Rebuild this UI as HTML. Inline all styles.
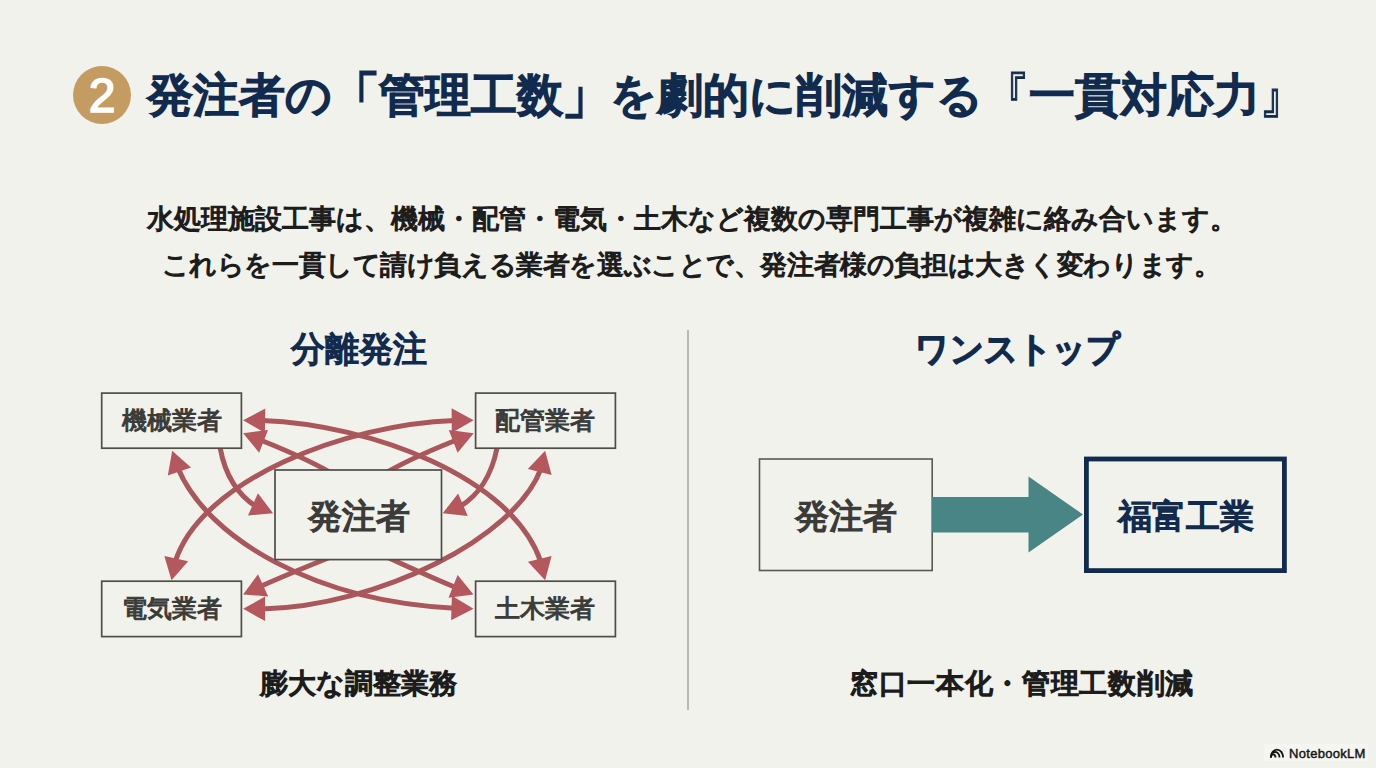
<!DOCTYPE html>
<html lang="ja">
<head>
<meta charset="utf-8">
<style>
html,body{margin:0;padding:0}
body{width:1376px;height:768px;overflow:hidden;background:#f2f2ed;position:relative;font-family:"Liberation Sans",sans-serif}
.abs{position:absolute;white-space:nowrap;line-height:1}
.title{left:147px;top:72px;font-size:46px;letter-spacing:0.16px;font-weight:normal;color:#112b4e;-webkit-text-stroke:2.4px #112b4e}
.badge{left:73px;top:66px;width:58px;height:58px;border-radius:50%;background:#c49c62;color:#fff;font-size:48px;font-weight:normal;text-align:center;line-height:60px;-webkit-text-stroke:1.6px #fff}
.sub{left:0;width:1376px;text-align:center;font-size:27px;font-weight:normal;color:#1c1c1c;-webkit-text-stroke:1.3px #1c1c1c}
.h2{font-size:35px;font-weight:normal;color:#112b4e;text-align:center;width:400px;-webkit-text-stroke:1.7px #112b4e}
.bo{display:inline-block;transform:scale(1.05,1.27);transform-origin:50% 22%}
.bc{display:inline-block;transform:scale(1.05,1.27);transform-origin:50% 78%}
.ns{-webkit-text-stroke:0.9px currentColor}
.cap{font-size:28px;font-weight:normal;color:#1c1c1c;text-align:center;width:500px;-webkit-text-stroke:1.6px #1c1c1c}
.box{position:absolute;box-sizing:border-box;display:flex;align-items:center;justify-content:center;color:#3b3b39;font-weight:normal;-webkit-text-stroke:1.1px currentColor}
</style>
</head>
<body>
<div class="abs badge">2</div>
<div class="abs title">発注者の<span class="bo">「</span>管理工数<span class="bc">」</span>を劇的に削減する<span class="ns bo">『</span>一貫対応力<span class="ns bc">』</span></div>
<div class="abs sub" style="top:206px;left:4px">水処理施設工事は、機械・配管・電気・土木など複数の専門工事が複雑に絡み合います。</div>
<div class="abs sub" style="top:252px;left:3px;letter-spacing:-0.42px">これらを一貫して請け負える業者を選ぶことで、発注者様の負担は大きく変わります。</div>

<div class="abs h2" style="left:158.5px;top:331px;transform:scaleX(0.972)">分離発注</div>
<div class="abs h2" style="left:818px;top:331px;transform:scaleX(0.95);-webkit-text-stroke:2.4px #112b4e">ワンストップ</div>

<div style="position:absolute;left:687px;top:330px;width:1.5px;height:380px;background:#b9b9b4"></div>

<svg style="position:absolute;left:0;top:0" width="1376" height="768">
<path d="M262.3,420.5 C371.0,424.5 512.2,477.4 540.8,561.8" fill="none" stroke="#aa575b" stroke-width="5"/>
<polygon points="243.1,420.3 265.3,408.4 264.9,432.9" fill="#b4585d"/>
<polygon points="545.1,580.2 527.9,561.8 551.6,555.9" fill="#b4585d"/>
<path d="M454.7,420.4 C344.7,424.1 201.0,480.3 175.2,561.7" fill="none" stroke="#aa575b" stroke-width="5"/>
<polygon points="473.7,420.3 451.8,432.8 451.6,408.3" fill="#b4585d"/>
<polygon points="171.5,580.2 164.3,556.1 188.2,561.3" fill="#b4585d"/>
<path d="M178.2,468.8 C208.4,539.3 316.1,601.4 454.5,608.2" fill="none" stroke="#aa575b" stroke-width="5"/>
<polygon points="172.2,450.7 191.0,467.5 167.8,475.5" fill="#b4585d"/>
<polygon points="473.5,608.8 451.1,620.3 451.9,595.8" fill="#b4585d"/>
<path d="M540.8,469.1 C514.8,537.8 379.0,606.3 262.0,609.0" fill="none" stroke="#aa575b" stroke-width="5"/>
<polygon points="545.1,450.7 551.6,475.0 527.8,469.0" fill="#b4585d"/>
<polygon points="243.1,608.8 265.1,596.6 265.1,621.1" fill="#b4585d"/>
<path d="M220.3,448.5 C225.1,475.5 238.4,495.5 255.6,506.1" fill="none" stroke="#aa575b" stroke-width="5"/>
<polygon points="273.1,513.3 248.0,515.6 257.9,493.2" fill="#b4585d"/>
<path d="M496.9,448.5 C491.5,475.7 478.0,495.7 460.2,506.3" fill="none" stroke="#aa575b" stroke-width="5"/>
<polygon points="442.7,513.3 458.1,493.4 467.7,515.9" fill="#b4585d"/>
<path d="M260.9,440.2 C290.2,451.8 316.9,463.9 340.0,478.0" fill="none" stroke="#aa575b" stroke-width="5"/>
<polygon points="243.1,433.3 268.0,429.9 259.2,452.7" fill="#b4585d"/>
<path d="M455.9,440.2 C426.6,451.8 399.9,463.9 376.8,478.0" fill="none" stroke="#aa575b" stroke-width="5"/>
<polygon points="473.7,433.3 457.6,452.7 448.8,429.9" fill="#b4585d"/>
<path d="M260.4,586.5 C290.1,573.1 315.9,563.3 340.0,553.0" fill="none" stroke="#aa575b" stroke-width="5"/>
<polygon points="243.1,594.5 258.0,574.2 268.2,596.4" fill="#b4585d"/>
<path d="M455.8,587.5 C429.8,576.8 402.6,564.4 376.0,552.0" fill="none" stroke="#aa575b" stroke-width="5"/>
<polygon points="473.5,594.5 448.5,597.7 457.6,575.0" fill="#b4585d"/>
<g fill="#f2f2ed" stroke="#4d4d4a" stroke-width="1.7">
<rect x="101.7" y="393.1" width="139.7" height="55.1"/>
<rect x="475.6" y="393.1" width="139.8" height="55.1"/>
<rect x="101.7" y="581.2" width="139.7" height="55.4"/>
<rect x="475.6" y="581.2" width="139.8" height="55.4"/>
<rect x="275" y="470" width="166.5" height="89.6"/>
</g>
<rect x="759.5" y="459" width="172.7" height="111.5" fill="#f2f2ed" stroke="#585854" stroke-width="1.6"/>
<polygon points="932,497 1028.5,497 1028.5,476.5 1083,514.5 1028.5,552.5 1028.5,532.5 932,532.5" fill="#4a8585"/>
<rect x="1086.4" y="459" width="198" height="111.6" fill="#f2f2ed" stroke="#112b4e" stroke-width="4.8"/>
</svg>
<div class="box" style="left:101px;top:392px;width:142px;height:57px;font-size:25px">機械業者</div>
<div class="box" style="left:474px;top:392px;width:142px;height:57px;font-size:25px">配管業者</div>
<div class="box" style="left:101px;top:580px;width:142px;height:57px;font-size:25px">電気業者</div>
<div class="box" style="left:474px;top:580px;width:142px;height:57px;font-size:25px">土木業者</div>
<div class="box" style="left:274px;top:469px;width:169px;height:92px;padding-top:4px;font-size:33.5px;font-weight:normal;-webkit-text-stroke:1.6px currentColor">発注者</div>

<div class="abs cap" style="left:108px;top:670px">膨大な調整業務</div>

<div class="box" style="left:759px;top:458px;width:174px;height:113px;padding-top:6px;font-size:33.5px;font-weight:normal;-webkit-text-stroke:1.6px currentColor">発注者</div>
<div class="box" style="left:1084px;top:457px;width:203px;height:116px;padding-top:3px;font-size:34.3px;font-weight:normal;-webkit-text-stroke:1.7px currentColor;color:#112b4e">福富工業</div>

<div class="abs cap" style="left:772px;top:670px;letter-spacing:0.68px">窓口一本化・管理工数削減</div>

<div class="abs" style="left:1264px;top:744px;width:104px;height:17px;background:#f5f5f1"></div>
<svg style="position:absolute;left:1268px;top:745px" width="18" height="14" viewBox="0 0 18 14"><g fill="none" stroke="#151515" stroke-width="1.9"><path d="M2.9 12.6 A6.1 8 0 0 1 15.1 12.6"/><path d="M2.9 12.6 A4.3 5.6 0 0 1 11.5 12.6"/><path d="M2.9 12.6 A2.3 3.2 0 0 1 7.5 12.6"/></g></svg>
<div class="abs" style="left:1289px;top:747px;font-size:13px;color:#151515;-webkit-text-stroke:0.45px #151515;letter-spacing:0.3px">NotebookLM</div>
</body>
</html>
